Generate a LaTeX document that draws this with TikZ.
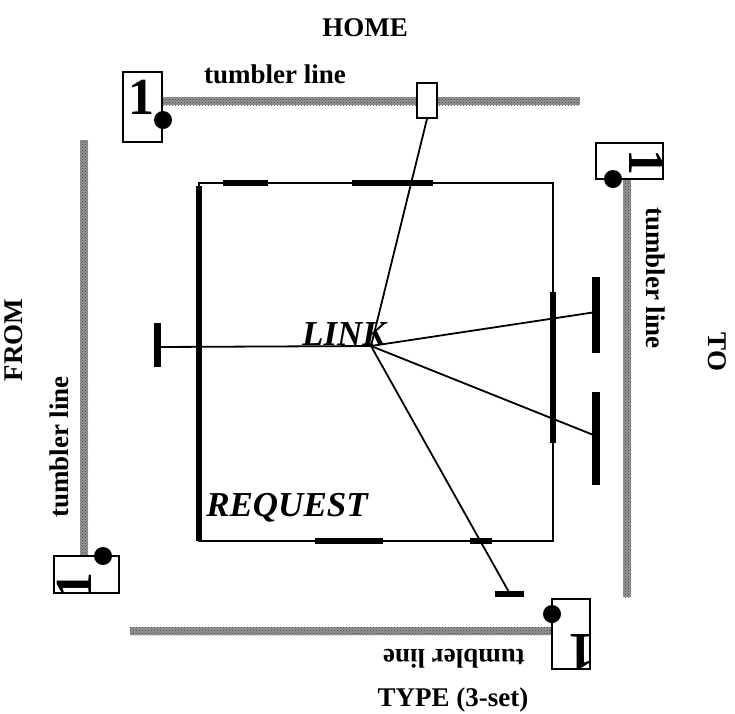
\documentclass[tikz,border=0pt]{standalone}
\usepackage{fontspec}
\setmainfont{Liberation Serif}
\usetikzlibrary{patterns}
\begin{document}
\begin{tikzpicture}[x=1pt,y=-1pt,
  bandfill/.style={fill=black!42},
  bandtex/.style={pattern=crosshatch dots, pattern color=black!75},
  lbl/.style={font=\fontsize{27}{29}\selectfont\bfseries, inner sep=0},
  big/.style={font=\fontsize{35}{37}\selectfont\bfseries\itshape, inner sep=0},
  one/.style={font=\fontsize{52}{54}\selectfont\bfseries, inner sep=0},
  tbox/.style={draw, line width=1.6, fill=white, inner sep=0},
  blob/.style={circle, fill=black, minimum size=18, inner sep=0},
  conn/.style={line width=1.8},
  edge/.style={line width=1.6},
  heavy/.style={line width=5.5}
]
\useasboundingbox (0,0) rectangle (735,713);

% tumbler bands
\foreach \a/\b in {{(162,97)}/{(580,105)}, {(623,180)}/{(631,597)}, {(130,627)}/{(552,635)}, {(80,140)}/{(88,556)}} {
  \fill[bandfill] \a rectangle \b;
  \fill[bandtex] \a rectangle \b;
}

% corner boxes
\node[tbox, minimum width=39, minimum height=70] (tl) at (142.5,107) {};
\node[one] (tlone) at (141,97) {1};
\node[blob] (tldot) at (163,120) {};

\node[tbox, minimum width=67, minimum height=36] (tr) at (629.5,161) {};
\begin{scope}
\clip (600,149) rectangle (672,173);
\node[one, rotate=-90] (trone) at (647,162) {1};
\end{scope}
\node[blob] (trdot) at (613,179) {};

\node[tbox, minimum width=38, minimum height=70] (br) at (571,634) {};
\begin{scope}
\clip (566,600) rectangle (594,672);
\node[one, rotate=180] (brone) at (581,652) {1};
\end{scope}
\node[blob] (brdot) at (552,614) {};

\node[tbox, minimum width=65, minimum height=37] (bl) at (86.5,574.5) {};
\begin{scope}
\clip (52,573) rectangle (100,601);
\node[one, rotate=90] (blone) at (74,585) {1};
\end{scope}
\node[blob] (bldot) at (103,556) {};

% top small rectangle on band
\node[tbox, minimum width=20, minimum height=35] (tsr) at (427,100.5) {};

% square
\coordinate (s1) at (199,183);
\coordinate (s2) at (553,183);
\coordinate (s3) at (553,541);
\coordinate (s4) at (199,541);
\draw[edge] (s1) -- (s2) -- (s3) -- (s4) -- cycle;
\draw[heavy] (199,186) -- (199,541);
\draw[heavy] (223,183) -- (268,183);
\draw[heavy] (352,183) -- (433,183);
\draw[line width=6.5] (553,292) -- (553,443);
\draw[heavy] (315,541) -- (383,541);
\draw[heavy] (470,541) -- (492,541);

% junction and connectors
\coordinate (J) at (371,346);
\coordinate (lb) at (157,347);
\coordinate (rb1) at (596,312);
\coordinate (rb2) at (596,436);
\coordinate (bb) at (510,594);
\draw[conn] (J) -- (lb);
\draw[conn] (J) -- (tsr.south);
\draw[conn] (J) -- (rb1);
\draw[conn] (J) -- (rb2);
\draw[conn] (J) -- (bb);

% bars
\draw[line width=7] (157,323) -- (157,367);
\draw[line width=8] (596,277) -- (596,353);
\draw[line width=8] (596,392) -- (596,485);
\draw[line width=6] (495,594) -- (524,594);

% texts
\node[big] (link) at (344,334) {LINK};
\node[big] (req) at (287,508) {REQUEST};
\node[lbl] (home) at (365,28) {HOME};
\node[lbl] (ttop) at (275,74) {tumbler line};
\node[lbl, rotate=-90] (tright) at (656,278) {tumbler line};
\node[lbl, rotate=-90] (to) at (717,352) {TO};
\node[lbl, rotate=180] (tbot) at (454,659) {tumbler line};
\node[lbl] (type) at (453,700) {TYPE (3-set)};
\node[lbl, rotate=90] (tleft) at (59,447) {tumbler line};
\node[lbl, rotate=90] (from) at (14,340) {FROM};
\end{tikzpicture}
\end{document}
